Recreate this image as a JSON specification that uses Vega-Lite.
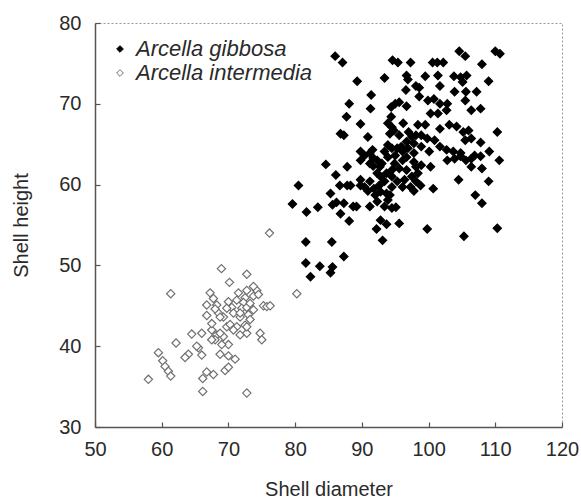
{
  "$schema": "https://vega.github.io/schema/vega-lite/v6.json",
  "width": 467,
  "height": 404,
  "autosize": "none",
  "padding": {"left": 95, "top": 23, "right": 19, "bottom": 76},
  "background": "white",
  "config": {
    "font": "Liberation Sans",
    "view": {"stroke": "#999", "strokeDash": [2, 2], "strokeWidth": 1},
    "axis": {
      "grid": false,
      "domainColor": "#555",
      "domainWidth": 1.5,
      "tickColor": "#555",
      "tickSize": -5,
      "tickWidth": 1.2,
      "labelFlush": false,
      "labelFont": "Liberation Sans",
      "labelFontSize": 20,
      "labelColor": "#2a2a2a",
      "titleFont": "Liberation Sans",
      "titleFontSize": 20,
      "titleFontWeight": "normal",
      "titleColor": "#2a2a2a"
    }
  },
  "data": {
    "values": [
      {"species": "Arcella gibbosa", "d": 86.0, "h": 75.9},
      {"species": "Arcella gibbosa", "d": 87.1, "h": 75.1},
      {"species": "Arcella gibbosa", "d": 89.3, "h": 72.8},
      {"species": "Arcella gibbosa", "d": 91.4, "h": 71.1},
      {"species": "Arcella gibbosa", "d": 88.1, "h": 70.0},
      {"species": "Arcella gibbosa", "d": 91.3, "h": 69.4},
      {"species": "Arcella gibbosa", "d": 93.4, "h": 73.2},
      {"species": "Arcella gibbosa", "d": 94.6, "h": 75.4},
      {"species": "Arcella gibbosa", "d": 95.4, "h": 75.1},
      {"species": "Arcella gibbosa", "d": 97.3, "h": 75.1},
      {"species": "Arcella gibbosa", "d": 100.6, "h": 75.1},
      {"species": "Arcella gibbosa", "d": 101.3, "h": 75.1},
      {"species": "Arcella gibbosa", "d": 102.2, "h": 75.1},
      {"species": "Arcella gibbosa", "d": 104.6, "h": 76.5},
      {"species": "Arcella gibbosa", "d": 105.5, "h": 75.9},
      {"species": "Arcella gibbosa", "d": 110.0, "h": 76.5},
      {"species": "Arcella gibbosa", "d": 110.7, "h": 76.2},
      {"species": "Arcella gibbosa", "d": 108.0, "h": 74.9},
      {"species": "Arcella gibbosa", "d": 109.0, "h": 72.8},
      {"species": "Arcella gibbosa", "d": 96.7, "h": 73.5},
      {"species": "Arcella gibbosa", "d": 96.9, "h": 73.0},
      {"species": "Arcella gibbosa", "d": 98.1, "h": 72.2},
      {"species": "Arcella gibbosa", "d": 98.6, "h": 72.0},
      {"species": "Arcella gibbosa", "d": 99.5, "h": 73.4},
      {"species": "Arcella gibbosa", "d": 101.4, "h": 73.5},
      {"species": "Arcella gibbosa", "d": 101.7, "h": 72.2},
      {"species": "Arcella gibbosa", "d": 103.8, "h": 73.4},
      {"species": "Arcella gibbosa", "d": 104.8, "h": 73.3},
      {"species": "Arcella gibbosa", "d": 105.1, "h": 72.7},
      {"species": "Arcella gibbosa", "d": 105.7, "h": 73.5},
      {"species": "Arcella gibbosa", "d": 103.9, "h": 71.5},
      {"species": "Arcella gibbosa", "d": 105.6, "h": 71.5},
      {"species": "Arcella gibbosa", "d": 107.2, "h": 71.5},
      {"species": "Arcella gibbosa", "d": 105.5, "h": 70.4},
      {"species": "Arcella gibbosa", "d": 96.6, "h": 71.7},
      {"species": "Arcella gibbosa", "d": 98.6, "h": 70.9},
      {"species": "Arcella gibbosa", "d": 99.9, "h": 70.4},
      {"species": "Arcella gibbosa", "d": 100.8, "h": 70.6},
      {"species": "Arcella gibbosa", "d": 101.7, "h": 70.0},
      {"species": "Arcella gibbosa", "d": 102.8, "h": 70.0},
      {"species": "Arcella gibbosa", "d": 102.7, "h": 69.2},
      {"species": "Arcella gibbosa", "d": 100.3, "h": 68.8},
      {"species": "Arcella gibbosa", "d": 101.4, "h": 68.8},
      {"species": "Arcella gibbosa", "d": 106.4, "h": 69.2},
      {"species": "Arcella gibbosa", "d": 107.8, "h": 69.4},
      {"species": "Arcella gibbosa", "d": 94.4, "h": 69.6},
      {"species": "Arcella gibbosa", "d": 95.0, "h": 70.0},
      {"species": "Arcella gibbosa", "d": 95.6, "h": 70.2},
      {"species": "Arcella gibbosa", "d": 94.4, "h": 68.4},
      {"species": "Arcella gibbosa", "d": 94.5, "h": 67.1},
      {"species": "Arcella gibbosa", "d": 96.2, "h": 67.6},
      {"species": "Arcella gibbosa", "d": 96.7, "h": 69.7},
      {"species": "Arcella gibbosa", "d": 94.8, "h": 66.7},
      {"species": "Arcella gibbosa", "d": 95.6, "h": 66.1},
      {"species": "Arcella gibbosa", "d": 97.0, "h": 66.5},
      {"species": "Arcella gibbosa", "d": 98.4, "h": 67.4},
      {"species": "Arcella gibbosa", "d": 99.5, "h": 67.4},
      {"species": "Arcella gibbosa", "d": 101.7, "h": 66.9},
      {"species": "Arcella gibbosa", "d": 103.1, "h": 67.4},
      {"species": "Arcella gibbosa", "d": 104.2, "h": 67.2},
      {"species": "Arcella gibbosa", "d": 105.2, "h": 66.5},
      {"species": "Arcella gibbosa", "d": 106.0, "h": 66.7},
      {"species": "Arcella gibbosa", "d": 105.5, "h": 65.5},
      {"species": "Arcella gibbosa", "d": 106.4, "h": 65.7},
      {"species": "Arcella gibbosa", "d": 110.3, "h": 66.5},
      {"species": "Arcella gibbosa", "d": 107.8, "h": 65.2},
      {"species": "Arcella gibbosa", "d": 100.9, "h": 65.5},
      {"species": "Arcella gibbosa", "d": 101.7, "h": 64.7},
      {"species": "Arcella gibbosa", "d": 102.7, "h": 64.3},
      {"species": "Arcella gibbosa", "d": 103.7, "h": 64.1},
      {"species": "Arcella gibbosa", "d": 104.8, "h": 63.9},
      {"species": "Arcella gibbosa", "d": 102.8, "h": 63.0},
      {"species": "Arcella gibbosa", "d": 105.6, "h": 63.0},
      {"species": "Arcella gibbosa", "d": 106.4, "h": 63.2},
      {"species": "Arcella gibbosa", "d": 106.9, "h": 63.6},
      {"species": "Arcella gibbosa", "d": 109.1, "h": 64.1},
      {"species": "Arcella gibbosa", "d": 110.6, "h": 63.0},
      {"species": "Arcella gibbosa", "d": 108.0, "h": 62.0},
      {"species": "Arcella gibbosa", "d": 100.3, "h": 62.2},
      {"species": "Arcella gibbosa", "d": 100.7, "h": 59.5},
      {"species": "Arcella gibbosa", "d": 104.5, "h": 60.6},
      {"species": "Arcella gibbosa", "d": 109.0, "h": 60.4},
      {"species": "Arcella gibbosa", "d": 107.0, "h": 58.7},
      {"species": "Arcella gibbosa", "d": 108.0, "h": 57.7},
      {"species": "Arcella gibbosa", "d": 110.3, "h": 54.6},
      {"species": "Arcella gibbosa", "d": 105.3, "h": 53.6},
      {"species": "Arcella gibbosa", "d": 99.8, "h": 54.5},
      {"species": "Arcella gibbosa", "d": 93.1, "h": 53.1},
      {"species": "Arcella gibbosa", "d": 93.7, "h": 55.1},
      {"species": "Arcella gibbosa", "d": 92.2, "h": 54.5},
      {"species": "Arcella gibbosa", "d": 92.8, "h": 55.6},
      {"species": "Arcella gibbosa", "d": 95.6, "h": 55.2},
      {"species": "Arcella gibbosa", "d": 93.4, "h": 57.3},
      {"species": "Arcella gibbosa", "d": 94.5, "h": 57.1},
      {"species": "Arcella gibbosa", "d": 95.1, "h": 57.2},
      {"species": "Arcella gibbosa", "d": 91.2, "h": 57.3},
      {"species": "Arcella gibbosa", "d": 92.3, "h": 57.9},
      {"species": "Arcella gibbosa", "d": 93.9, "h": 58.1},
      {"species": "Arcella gibbosa", "d": 87.3, "h": 57.7},
      {"species": "Arcella gibbosa", "d": 88.7, "h": 57.3},
      {"species": "Arcella gibbosa", "d": 89.2, "h": 57.3},
      {"species": "Arcella gibbosa", "d": 85.6, "h": 57.5},
      {"species": "Arcella gibbosa", "d": 86.2, "h": 57.8},
      {"species": "Arcella gibbosa", "d": 83.4, "h": 57.2},
      {"species": "Arcella gibbosa", "d": 81.7, "h": 56.6},
      {"species": "Arcella gibbosa", "d": 79.6, "h": 57.6},
      {"species": "Arcella gibbosa", "d": 80.5, "h": 59.9},
      {"species": "Arcella gibbosa", "d": 85.3, "h": 58.9},
      {"species": "Arcella gibbosa", "d": 86.7, "h": 59.9},
      {"species": "Arcella gibbosa", "d": 87.8, "h": 59.9},
      {"species": "Arcella gibbosa", "d": 88.3, "h": 59.9},
      {"species": "Arcella gibbosa", "d": 89.8, "h": 60.6},
      {"species": "Arcella gibbosa", "d": 89.8, "h": 59.9},
      {"species": "Arcella gibbosa", "d": 86.1, "h": 61.2},
      {"species": "Arcella gibbosa", "d": 84.6, "h": 62.5},
      {"species": "Arcella gibbosa", "d": 87.8, "h": 62.2},
      {"species": "Arcella gibbosa", "d": 88.1, "h": 55.5},
      {"species": "Arcella gibbosa", "d": 86.8, "h": 56.4},
      {"species": "Arcella gibbosa", "d": 81.6, "h": 52.9},
      {"species": "Arcella gibbosa", "d": 85.5, "h": 52.9},
      {"species": "Arcella gibbosa", "d": 87.3, "h": 51.1},
      {"species": "Arcella gibbosa", "d": 81.6, "h": 50.3},
      {"species": "Arcella gibbosa", "d": 83.7, "h": 49.9},
      {"species": "Arcella gibbosa", "d": 85.6, "h": 49.8},
      {"species": "Arcella gibbosa", "d": 85.3, "h": 49.1},
      {"species": "Arcella gibbosa", "d": 82.3, "h": 48.6},
      {"species": "Arcella gibbosa", "d": 87.3, "h": 66.1},
      {"species": "Arcella gibbosa", "d": 87.7, "h": 68.4},
      {"species": "Arcella gibbosa", "d": 86.8, "h": 66.3},
      {"species": "Arcella gibbosa", "d": 89.8, "h": 67.5},
      {"species": "Arcella gibbosa", "d": 90.9, "h": 65.9},
      {"species": "Arcella gibbosa", "d": 89.8, "h": 64.1},
      {"species": "Arcella gibbosa", "d": 90.4, "h": 63.6},
      {"species": "Arcella gibbosa", "d": 89.8, "h": 63.0},
      {"species": "Arcella gibbosa", "d": 91.2, "h": 62.6},
      {"species": "Arcella gibbosa", "d": 91.7, "h": 62.3},
      {"species": "Arcella gibbosa", "d": 92.3, "h": 63.0},
      {"species": "Arcella gibbosa", "d": 92.7, "h": 62.2},
      {"species": "Arcella gibbosa", "d": 93.4, "h": 64.1},
      {"species": "Arcella gibbosa", "d": 93.9, "h": 64.9},
      {"species": "Arcella gibbosa", "d": 94.5, "h": 64.5},
      {"species": "Arcella gibbosa", "d": 95.3, "h": 64.5},
      {"species": "Arcella gibbosa", "d": 95.9, "h": 64.7},
      {"species": "Arcella gibbosa", "d": 96.7, "h": 65.3},
      {"species": "Arcella gibbosa", "d": 97.5, "h": 65.9},
      {"species": "Arcella gibbosa", "d": 98.1, "h": 66.1},
      {"species": "Arcella gibbosa", "d": 98.9, "h": 64.7},
      {"species": "Arcella gibbosa", "d": 96.1, "h": 63.0},
      {"species": "Arcella gibbosa", "d": 96.7, "h": 63.4},
      {"species": "Arcella gibbosa", "d": 97.8, "h": 62.8},
      {"species": "Arcella gibbosa", "d": 98.1, "h": 62.2},
      {"species": "Arcella gibbosa", "d": 98.9, "h": 62.4},
      {"species": "Arcella gibbosa", "d": 96.7, "h": 61.8},
      {"species": "Arcella gibbosa", "d": 94.5, "h": 61.8},
      {"species": "Arcella gibbosa", "d": 93.7, "h": 61.4},
      {"species": "Arcella gibbosa", "d": 94.5, "h": 61.0},
      {"species": "Arcella gibbosa", "d": 92.8, "h": 61.0},
      {"species": "Arcella gibbosa", "d": 93.4, "h": 60.4},
      {"species": "Arcella gibbosa", "d": 92.6, "h": 59.9},
      {"species": "Arcella gibbosa", "d": 91.8, "h": 59.5},
      {"species": "Arcella gibbosa", "d": 92.8, "h": 59.1},
      {"species": "Arcella gibbosa", "d": 93.7, "h": 58.9},
      {"species": "Arcella gibbosa", "d": 92.0, "h": 58.7},
      {"species": "Arcella gibbosa", "d": 94.5, "h": 59.7},
      {"species": "Arcella gibbosa", "d": 95.3, "h": 60.4},
      {"species": "Arcella gibbosa", "d": 96.1, "h": 59.7},
      {"species": "Arcella gibbosa", "d": 97.3, "h": 59.7},
      {"species": "Arcella gibbosa", "d": 97.8, "h": 59.2},
      {"species": "Arcella gibbosa", "d": 98.8, "h": 59.9},
      {"species": "Arcella gibbosa", "d": 95.6, "h": 62.0},
      {"species": "Arcella gibbosa", "d": 94.9, "h": 62.6},
      {"species": "Arcella gibbosa", "d": 93.9, "h": 63.4},
      {"species": "Arcella gibbosa", "d": 91.2, "h": 63.9},
      {"species": "Arcella gibbosa", "d": 91.7, "h": 63.3},
      {"species": "Arcella gibbosa", "d": 91.6, "h": 64.3},
      {"species": "Arcella gibbosa", "d": 100.1, "h": 64.1},
      {"species": "Arcella gibbosa", "d": 99.8, "h": 65.7},
      {"species": "Arcella gibbosa", "d": 98.9, "h": 66.1},
      {"species": "Arcella gibbosa", "d": 91.2, "h": 60.4},
      {"species": "Arcella gibbosa", "d": 90.4, "h": 59.7},
      {"species": "Arcella gibbosa", "d": 90.9, "h": 59.2},
      {"species": "Arcella gibbosa", "d": 94.2, "h": 66.3},
      {"species": "Arcella gibbosa", "d": 93.9, "h": 67.6},
      {"species": "Arcella gibbosa", "d": 103.9, "h": 63.2},
      {"species": "Arcella gibbosa", "d": 96.1, "h": 64.1},
      {"species": "Arcella gibbosa", "d": 96.9, "h": 64.5},
      {"species": "Arcella gibbosa", "d": 97.8, "h": 63.9},
      {"species": "Arcella gibbosa", "d": 98.4, "h": 61.4},
      {"species": "Arcella gibbosa", "d": 97.5, "h": 61.0},
      {"species": "Arcella gibbosa", "d": 96.4, "h": 60.6},
      {"species": "Arcella gibbosa", "d": 98.1, "h": 60.4},
      {"species": "Arcella gibbosa", "d": 95.0, "h": 63.6},
      {"species": "Arcella gibbosa", "d": 93.0, "h": 62.6},
      {"species": "Arcella gibbosa", "d": 92.3, "h": 61.4},
      {"species": "Arcella gibbosa", "d": 94.2, "h": 58.7},
      {"species": "Arcella gibbosa", "d": 104.8, "h": 63.5},
      {"species": "Arcella gibbosa", "d": 107.8, "h": 63.5},
      {"species": "Arcella gibbosa", "d": 106.4, "h": 62.2},
      {"species": "Arcella gibbosa", "d": 97.8, "h": 65.1},
      {"species": "Arcella intermedia", "d": 76.15, "h": 54.0},
      {"species": "Arcella intermedia", "d": 68.95, "h": 49.6},
      {"species": "Arcella intermedia", "d": 72.75, "h": 48.9},
      {"species": "Arcella intermedia", "d": 70.15, "h": 47.9},
      {"species": "Arcella intermedia", "d": 61.35, "h": 46.5},
      {"species": "Arcella intermedia", "d": 80.25, "h": 46.5},
      {"species": "Arcella intermedia", "d": 67.25, "h": 46.6},
      {"species": "Arcella intermedia", "d": 67.75, "h": 45.9},
      {"species": "Arcella intermedia", "d": 68.25, "h": 45.1},
      {"species": "Arcella intermedia", "d": 70.0, "h": 45.5},
      {"species": "Arcella intermedia", "d": 71.5, "h": 46.6},
      {"species": "Arcella intermedia", "d": 72.75, "h": 46.9},
      {"species": "Arcella intermedia", "d": 74.25, "h": 46.9},
      {"species": "Arcella intermedia", "d": 73.75, "h": 46.2},
      {"species": "Arcella intermedia", "d": 72.5, "h": 46.0},
      {"species": "Arcella intermedia", "d": 72.25, "h": 45.4},
      {"species": "Arcella intermedia", "d": 70.5, "h": 44.8},
      {"species": "Arcella intermedia", "d": 75.25, "h": 45.0},
      {"species": "Arcella intermedia", "d": 75.75, "h": 44.9},
      {"species": "Arcella intermedia", "d": 76.25, "h": 45.0},
      {"species": "Arcella intermedia", "d": 66.75, "h": 43.8},
      {"species": "Arcella intermedia", "d": 68.5, "h": 44.1},
      {"species": "Arcella intermedia", "d": 69.25, "h": 43.6},
      {"species": "Arcella intermedia", "d": 70.75, "h": 44.1},
      {"species": "Arcella intermedia", "d": 71.75, "h": 43.6},
      {"species": "Arcella intermedia", "d": 73.0, "h": 43.9},
      {"species": "Arcella intermedia", "d": 69.75, "h": 42.4},
      {"species": "Arcella intermedia", "d": 71.25, "h": 42.4},
      {"species": "Arcella intermedia", "d": 72.5, "h": 42.6},
      {"species": "Arcella intermedia", "d": 73.25, "h": 43.3},
      {"species": "Arcella intermedia", "d": 64.5, "h": 41.5},
      {"species": "Arcella intermedia", "d": 66.0, "h": 41.6},
      {"species": "Arcella intermedia", "d": 67.5, "h": 42.0},
      {"species": "Arcella intermedia", "d": 68.25, "h": 41.4},
      {"species": "Arcella intermedia", "d": 68.0, "h": 40.8},
      {"species": "Arcella intermedia", "d": 69.25, "h": 41.2},
      {"species": "Arcella intermedia", "d": 71.75, "h": 41.4},
      {"species": "Arcella intermedia", "d": 72.75, "h": 41.6},
      {"species": "Arcella intermedia", "d": 74.75, "h": 41.6},
      {"species": "Arcella intermedia", "d": 75.0, "h": 40.8},
      {"species": "Arcella intermedia", "d": 70.0, "h": 40.2},
      {"species": "Arcella intermedia", "d": 69.0, "h": 40.2},
      {"species": "Arcella intermedia", "d": 62.15, "h": 40.4},
      {"species": "Arcella intermedia", "d": 59.5, "h": 39.2},
      {"species": "Arcella intermedia", "d": 65.5, "h": 39.8},
      {"species": "Arcella intermedia", "d": 66.0, "h": 38.9},
      {"species": "Arcella intermedia", "d": 64.0, "h": 39.0},
      {"species": "Arcella intermedia", "d": 63.5, "h": 38.6},
      {"species": "Arcella intermedia", "d": 68.75, "h": 39.0},
      {"species": "Arcella intermedia", "d": 70.0, "h": 38.8},
      {"species": "Arcella intermedia", "d": 71.0, "h": 38.4},
      {"species": "Arcella intermedia", "d": 60.15, "h": 38.2},
      {"species": "Arcella intermedia", "d": 60.5, "h": 37.5},
      {"species": "Arcella intermedia", "d": 61.0, "h": 36.9},
      {"species": "Arcella intermedia", "d": 61.35, "h": 36.3},
      {"species": "Arcella intermedia", "d": 58.0, "h": 35.9},
      {"species": "Arcella intermedia", "d": 69.5, "h": 37.0},
      {"species": "Arcella intermedia", "d": 70.0, "h": 37.4},
      {"species": "Arcella intermedia", "d": 66.75, "h": 36.8},
      {"species": "Arcella intermedia", "d": 67.75, "h": 36.5},
      {"species": "Arcella intermedia", "d": 66.15, "h": 36.0},
      {"species": "Arcella intermedia", "d": 66.15, "h": 34.4},
      {"species": "Arcella intermedia", "d": 72.75, "h": 34.2},
      {"species": "Arcella intermedia", "d": 68.75, "h": 41.6},
      {"species": "Arcella intermedia", "d": 67.5, "h": 42.8},
      {"species": "Arcella intermedia", "d": 68.75, "h": 43.6},
      {"species": "Arcella intermedia", "d": 72.0, "h": 44.7},
      {"species": "Arcella intermedia", "d": 72.75, "h": 44.8},
      {"species": "Arcella intermedia", "d": 73.75, "h": 44.5},
      {"species": "Arcella intermedia", "d": 69.75, "h": 44.7},
      {"species": "Arcella intermedia", "d": 71.25, "h": 45.7},
      {"species": "Arcella intermedia", "d": 73.25, "h": 45.3},
      {"species": "Arcella intermedia", "d": 66.75, "h": 45.1},
      {"species": "Arcella intermedia", "d": 72.75, "h": 42.4},
      {"species": "Arcella intermedia", "d": 70.75, "h": 42.0},
      {"species": "Arcella intermedia", "d": 67.5, "h": 40.8},
      {"species": "Arcella intermedia", "d": 65.25, "h": 40.0},
      {"species": "Arcella intermedia", "d": 70.25, "h": 42.7},
      {"species": "Arcella intermedia", "d": 71.75, "h": 44.1},
      {"species": "Arcella intermedia", "d": 68.0, "h": 44.6},
      {"species": "Arcella intermedia", "d": 74.5, "h": 46.4},
      {"species": "Arcella intermedia", "d": 73.75, "h": 47.4}
    ]
  },
  "mark": {"type": "point", "shape": "diamond", "filled": false, "strokeWidth": 1.2, "opacity": 1, "size": 68},
  "encoding": {
    "x": {
      "field": "d",
      "type": "quantitative",
      "scale": {"domain": [50, 120], "nice": false, "zero": false},
      "axis": {"values": [50, 60, 70, 80, 90, 100, 110, 120], "labelPadding": 17, "title": "Shell diameter", "titlePadding": 20}
    },
    "y": {
      "field": "h",
      "type": "quantitative",
      "scale": {"domain": [30, 80], "nice": false, "zero": false},
      "axis": {"values": [30, 40, 50, 60, 70, 80], "labelPadding": 19, "title": "Shell height", "titlePadding": 27}
    },
    "fill": {
      "field": "species",
      "type": "nominal",
      "scale": {"domain": ["Arcella gibbosa", "Arcella intermedia"], "range": ["#000000", "#ffffff"]},
      "legend": {
        "title": null,
        "orient": "none",
        "legendX": 14,
        "legendY": 15,
        "labelFontSize": 22,
        "labelFontStyle": "italic",
        "labelColor": "#2a2a2a",
        "labelFont": "Liberation Sans",
        "labelLimit": 400,
        "symbolType": "diamond",
        "symbolSize": 45,
        "symbolStrokeWidth": 1,
        "labelOffset": 5,
        "rowPadding": 2
      }
    },
    "stroke": {
      "field": "species",
      "type": "nominal",
      "scale": {"domain": ["Arcella gibbosa", "Arcella intermedia"], "range": ["#000000", "#707070"]}
    }
  }
}
